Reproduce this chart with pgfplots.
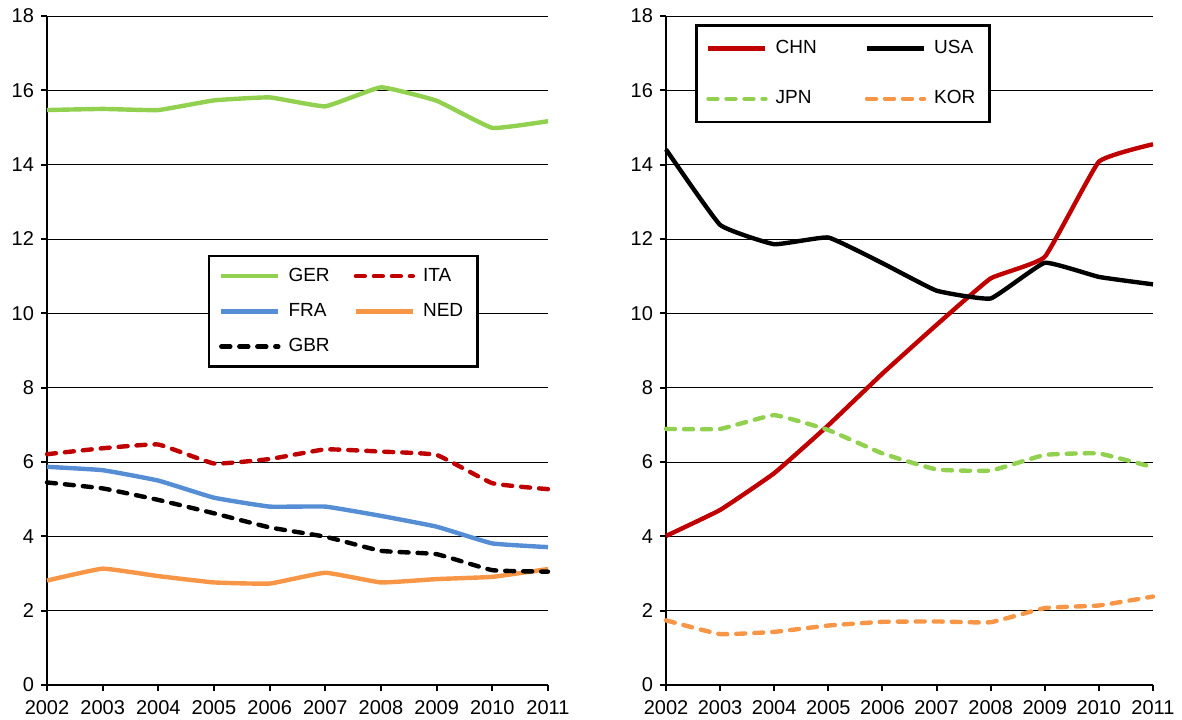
\documentclass[border=0pt]{standalone}
\usepackage{fontspec}
\setmainfont{Liberation Sans}
\usepackage{pgfplots}
\pgfplotsset{compat=1.18}
\definecolor{cgreen}{RGB}{146,208,80}
\definecolor{cred}{RGB}{192,0,0}
\definecolor{cblue}{RGB}{85,142,213}
\definecolor{corange}{RGB}{247,150,70}
\pgfplotsset{
  base/.style={
    scale only axis, height=334.5pt,
    xmin=2002, xmax=2011, ymin=0, ymax=18,
    xtick={2002,2003,...,2011},
    xticklabels={2002,2003,2004,2005,2006,2007,2008,2009,2010,2011},
    ytick={0,2,...,18},
    axis x line*=bottom, axis y line*=left,
    axis line style={black, line width=1.2pt},
    tick align=outside, major tick length=3pt,
    tick style={black, line width=1pt},
    ymajorgrids, major grid style={black, line width=0.5pt},
    /pgf/number format/assume math mode=true,
    tick label style={font=\fontsize{10}{12}\selectfont},
    xticklabel style={yshift=-1pt},
    clip=false,
    legend cell align=left,
    legend image code/.code={\draw[##1] (0.5pt,0pt) -- (29pt,0pt);},
    legend style={draw=black, line width=1.3pt, font=\fontsize{9.5}{11}\selectfont,
      fill=white, inner xsep=5pt, inner ysep=4pt},
  },
  sline/.style={line width=2.2pt, smooth, tension=0.2},
  dline/.style={line width=2.2pt, smooth, tension=0.2, line cap=round, dash pattern=on 4.5pt off 4.5pt},
}
\begin{document}
\begin{tikzpicture}
\useasboundingbox (-23.5pt,-17pt) rectangle (567.5pt,342.5pt);
\begin{axis}[base, width=250.5pt, at={(0pt,0pt)},
  legend columns=2,
  legend style={at={(0.321,0.643)}, anchor=north west,
    /tikz/every odd column/.append style={column sep=2pt},
    /tikz/every even column/.append style={column sep=10pt},
    row sep=5.5pt},
  ]
\addplot[sline, cgreen] coordinates {(2002,15.47)(2003,15.50)(2004,15.47)(2005,15.73)(2006,15.81)(2007,15.57)(2008,16.08)(2009,15.72)(2010,14.99)(2011,15.17)};
\addlegendentry{GER}
\addplot[dline, cred] coordinates {(2002,6.21)(2003,6.37)(2004,6.47)(2005,5.96)(2006,6.08)(2007,6.34)(2008,6.28)(2009,6.19)(2010,5.43)(2011,5.27)};
\addlegendentry{ITA}
\addplot[sline, cblue] coordinates {(2002,5.87)(2003,5.78)(2004,5.50)(2005,5.04)(2006,4.80)(2007,4.80)(2008,4.55)(2009,4.26)(2010,3.81)(2011,3.71)};
\addlegendentry{FRA}
\addplot[sline, corange] coordinates {(2002,2.81)(2003,3.13)(2004,2.93)(2005,2.76)(2006,2.73)(2007,3.02)(2008,2.76)(2009,2.85)(2010,2.91)(2011,3.12)};
\addlegendentry{NED}
\addplot[dline, black] coordinates {(2002,5.45)(2003,5.29)(2004,4.98)(2005,4.62)(2006,4.24)(2007,3.99)(2008,3.61)(2009,3.52)(2010,3.09)(2011,3.05)};
\addlegendentry{GBR}
\end{axis}
\begin{axis}[base, width=243.5pt, at={(309.5pt,0pt)},
  legend columns=2,
  legend style={at={(0.0595,0.988)}, anchor=north west,
    /tikz/every odd column/.append style={column sep=2pt},
    /tikz/every even column/.append style={column sep=22pt},
    row sep=13pt, inner ysep=5.5pt},
  ]
\addplot[sline, cred] coordinates {(2002,4.01)(2003,4.71)(2004,5.70)(2005,6.99)(2006,8.38)(2007,9.69)(2008,10.94)(2009,11.52)(2010,14.08)(2011,14.55)};
\addlegendentry{CHN}
\addplot[sline, black] coordinates {(2002,14.41)(2003,12.38)(2004,11.86)(2005,12.04)(2006,11.35)(2007,10.61)(2008,10.40)(2009,11.36)(2010,10.98)(2011,10.78)};
\addlegendentry{USA}
\addplot[dline, cgreen] coordinates {(2002,6.89)(2003,6.89)(2004,7.26)(2005,6.86)(2006,6.23)(2007,5.80)(2008,5.77)(2009,6.19)(2010,6.23)(2011,5.86)};
\addlegendentry{JPN}
\addplot[dline, corange] coordinates {(2002,1.74)(2003,1.37)(2004,1.43)(2005,1.60)(2006,1.70)(2007,1.71)(2008,1.69)(2009,2.07)(2010,2.14)(2011,2.38)};
\addlegendentry{KOR}
\end{axis}
\end{tikzpicture}
\end{document}
